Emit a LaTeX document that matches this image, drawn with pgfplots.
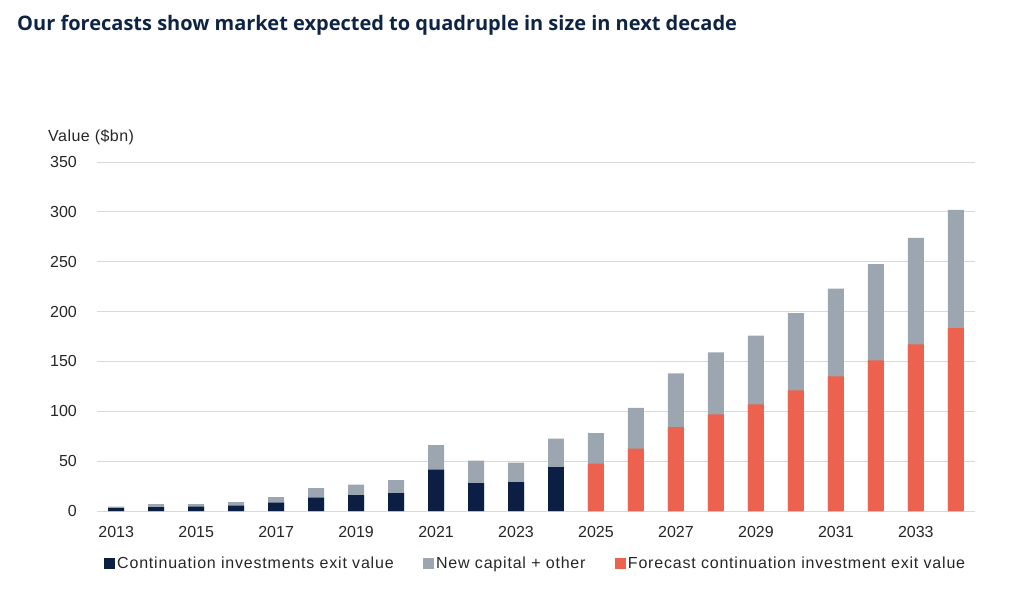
\documentclass[border=0pt]{standalone}
\usepackage{fontspec}
\setmainfont{Liberation Sans}
\newfontfamily\titlefont{Open Sans}
\usepackage{pgfplots}
\pgfplotsset{compat=1.18}

\definecolor{navy}{HTML}{0B1F45}
\definecolor{capgrey}{HTML}{9CA6B0}
\definecolor{fcred}{HTML}{EC624F}
\definecolor{gridgrey}{HTML}{D9D9D9}
\definecolor{titleblue}{HTML}{0E2445}
\definecolor{txt}{HTML}{262626}

\pgfplotsset{
    sqlegend/.style={legend image code/.code={\fill[##1] (0pt,-5pt) rectangle (10pt,5pt);}},
}

\begin{document}
\begin{tikzpicture}
\path[use as bounding box] (0pt,0pt) rectangle (1024pt,600pt);

\node[anchor=west, inner sep=0pt, text=titleblue,
      font=\titlefont\bfseries\fontsize{20}{24}\selectfont] at (17pt,575pt)
    {Our forecasts show market expected to quadruple in size in next decade};

\node[anchor=west, inner sep=0pt, text=txt,
      font=\fontsize{16}{19}\selectfont\addfontfeature{LetterSpace=3}]
    at (48pt,463pt) {Value (\$bn)};

\begin{axis}[
    at={(97pt,89pt)}, anchor=south west,
    scale only axis,
    width=878pt, height=349pt,
    xmin=2012.52, xmax=2034.48,
    ymin=0, ymax=350,
    axis line style={draw=none},
    major tick length=0pt,
    ymajorgrids,
    grid style={gridgrey, line width=1pt},
    xtick={2013,2015,...,2033},
    ytick={0,50,...,350},
    /pgf/number format/1000 sep={},
    /pgf/number format/assume math mode=true,
    tick label style={font=\fontsize{16}{19}\selectfont, text=txt},
    yticklabel style={anchor=east, inner sep=0pt, xshift=-20pt},
    xticklabel style={anchor=center, inner sep=0pt, yshift=-21pt},
    legend columns=3,
    legend cell align=left,
    legend style={at={(rel axis cs:0.5,0)}, anchor=center, yshift=-52pt,
        draw=none, fill=none, text=txt,
        font=\fontsize{16}{19}\selectfont\addfontfeature{LetterSpace=5},
        /tikz/every even column/.append style={column sep=26pt},
        nodes={inner xsep=3pt}},
]
% totals (grey) drawn first, components on top
\addplot[ybar, bar width=0.4, fill=capgrey, draw=none, forget plot] coordinates {
    (2013,4.5) (2014,7) (2015,7) (2016,9) (2017,14) (2018,23) (2019,26.5)
    (2020,31) (2021,66) (2022,50.5) (2023,48.5) (2024,72.5)
    (2025,78) (2026,103.5) (2027,138) (2028,159) (2029,176) (2030,198.5)
    (2031,223) (2032,247.5) (2033,274) (2034,302)
};
\addplot[ybar, bar width=0.4, fill=navy, draw=none, forget plot] coordinates {
    (2013,3) (2014,4) (2015,4.5) (2016,5.5) (2017,8.5) (2018,13.5) (2019,16)
    (2020,18) (2021,41.5) (2022,28) (2023,29) (2024,44)
};
\addplot[ybar, bar width=0.4, fill=fcred, draw=none, forget plot] coordinates {
    (2025,47.5) (2026,62.5) (2027,84) (2028,97) (2029,107) (2030,121)
    (2031,135) (2032,151) (2033,167) (2034,183.5)
};

\addlegendimage{sqlegend, navy}
\addlegendentry{Continuation investments exit value}
\addlegendimage{sqlegend, capgrey}
\addlegendentry{New capital + other}
\addlegendimage{sqlegend, fcred}
\addlegendentry{Forecast continuation investment exit value}
\end{axis}
\end{tikzpicture}
\end{document}
